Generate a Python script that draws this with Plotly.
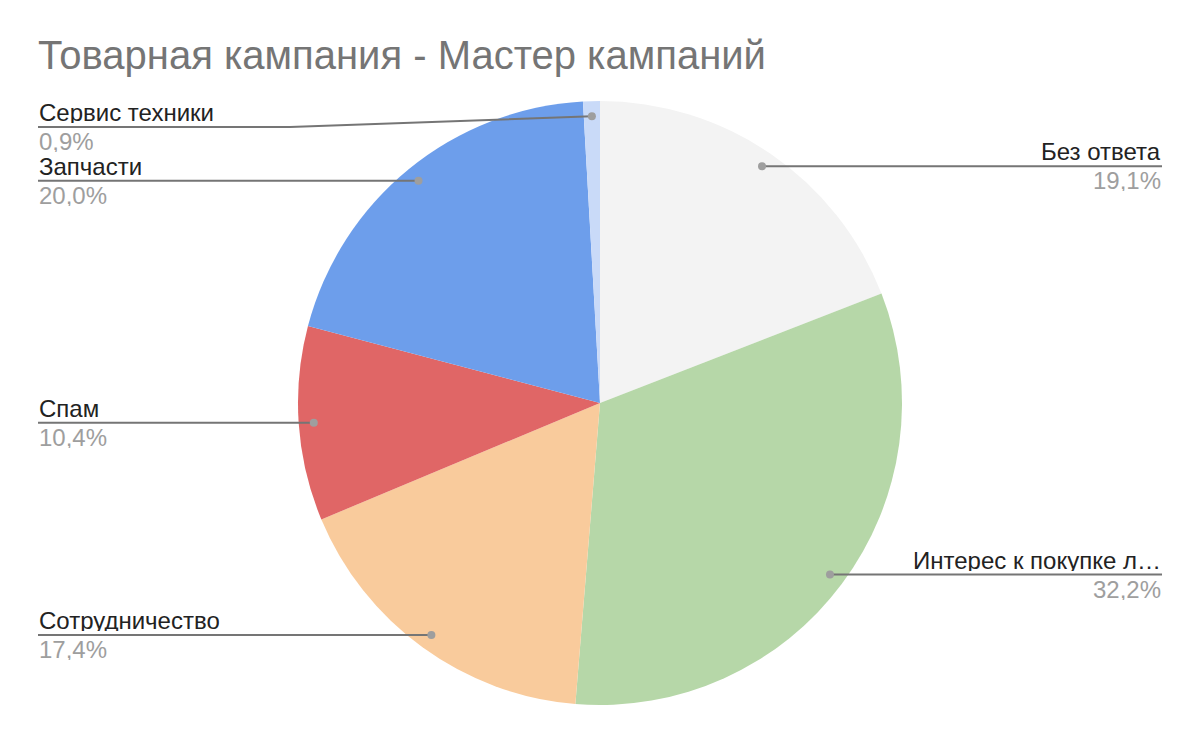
import math
import plotly.graph_objects as go

# данные
categorias = ["Без ответа", "Интерес к покупке л…", "Сотрудничество", "Спам", "Запчасти", "Сервис техники"]
valores = [19.1, 32.2, 17.4, 10.4, 20.0, 0.9]
colores = ["#f3f3f3", "#b6d7a8", "#f9cb9c", "#e06666", "#6d9eeb", "#c9daf8"]
titulo = "Товарная кампания - Мастер кампаний"

W, H = 1200, 742
OFF = 8  # margen del body en la página
cx, cy, r = 600, 403, 302  # posición del pastel en la pantalla
m_t = cy - r - OFF
m_b = H - (cy + r - OFF)
alto = H - m_t - m_b

def px2paper(x, y):
    return (x - OFF) / W, (H - m_b - (y - OFF)) / alto

fig = go.Figure()
fig.add_trace(go.Pie(labels=categorias, values=valores, sort=False, direction="clockwise",
                     rotation=0, marker=dict(colors=colores, line=dict(width=0)),
                     textinfo="none", hoverinfo="skip", showlegend=False,
                     domain=dict(x=[(cx - r - OFF) / W, (cx + r - OFF) / W], y=[0, 1])))

total = sum(valores)
acum = 0
shapes = []
annots = []
y_min_izq = 127
fuente = "Liberation Sans, Arial, sans-serif"
for nombre, v in zip(categorias, valores):
    ang = (acum + v / 2) / total * 2 * math.pi
    acum += v
    dx = cx + 0.95 * r * math.sin(ang)
    dy = cy - 0.95 * r * math.cos(ang)
    derecha = math.sin(ang) > 0
    ly = dy
    if not derecha and ly < y_min_izq:
        ly = y_min_izq
    if derecha:
        fin = 1162
        codo = cx + r + 8
    else:
        fin = 38
        codo = cx - r - 8
    pts = [(dx, dy)]
    if abs(ly - dy) > 1:
        pts.append((codo, ly))
    pts.append((fin, ly))
    path = ""
    for i, (x, y) in enumerate(pts):
        a, b = px2paper(x, y)
        path += ("M" if i == 0 else " L") + " {:.5f} {:.5f}".format(a, b)
    shapes.append(dict(type="path", xref="paper", yref="paper", path=path,
                       line=dict(color="#757575", width=2)))
    pa, pb = px2paper(dx, dy)
    shapes.append(dict(type="circle", xref="paper", yref="paper", xsizemode="pixel", ysizemode="pixel",
                       xanchor=pa, yanchor=pb, x0=-4, x1=4, y0=-4, y1=4,
                       fillcolor="#9e9e9e", line=dict(width=0)))
    fa, fb = px2paper(fin, ly)
    anchor = "right" if derecha else "left"
    annots.append(dict(x=fa, y=fb, xref="paper", yref="paper", text=nombre, showarrow=False,
                       xanchor=anchor, yanchor="bottom", borderpad=0, yshift=3, height=22,
                       valign="middle",
                       font=dict(family=fuente, size=24, color="#222222")))
    annots.append(dict(x=fa, y=fb, xref="paper", yref="paper",
                       text="{:.1f}%".format(v).replace(".", ","), showarrow=False,
                       xanchor=anchor, yanchor="top", borderpad=0, yshift=-2, height=22,
                       valign="middle",
                       font=dict(family=fuente, size=24, color="#9e9e9e")))

fig.update_layout(
    width=W, height=H,
    margin=dict(l=0, r=0, t=m_t, b=m_b),
    paper_bgcolor="white",
    title=dict(text=titulo, x=(38 - OFF) / W, xanchor="left", y=1 - (55 - OFF) / H, yanchor="middle",
               font=dict(family=fuente, size=40, color="#757575")),
    shapes=shapes,
    annotations=annots,
)
fig.write_html("out.html")
